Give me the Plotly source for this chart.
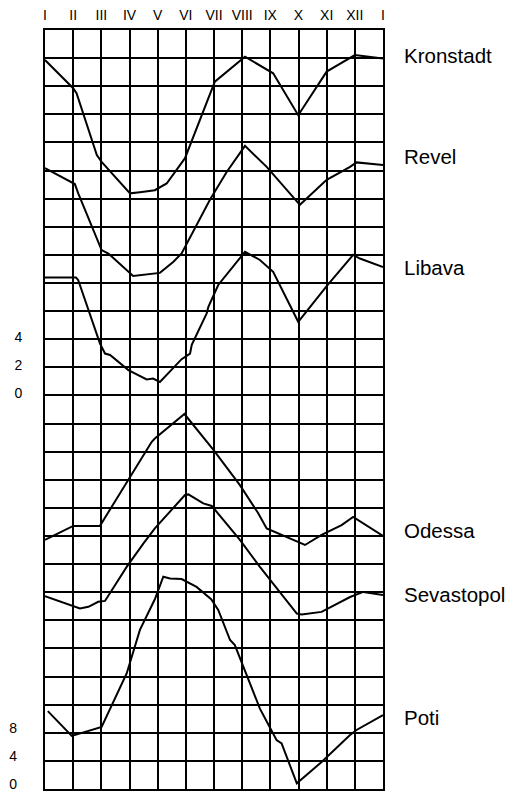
import plotly.graph_objects as go

# ---- data (x in months from January = 0, y in grid units counted from the bottom row) ----
month_labels = ["I", "II", "III", "IV", "V", "VI", "VII", "VIII", "IX", "X", "XI", "XII", "I"]

kronstadt_x = [0, 1.0, 1.12, 1.84, 2.01, 3.02, 3.37, 3.9, 4.32, 4.97, 6.03, 7.1, 8.1, 8.99, 10.0, 11.0, 12.0]
kronstadt_y = [25.93, 24.93, 24.75, 22.55, 22.31, 21.19, 21.23, 21.3, 21.54, 22.44, 25.16, 26.05, 25.46, 23.97, 25.52, 26.11, 25.99]

revel_x = [0, 1.06, 1.18, 2.01, 2.25, 3.13, 4.08, 4.55, 4.85, 5.86, 6.45, 7.1, 7.87, 9.05, 10.0, 10.83, 11.06, 12.0]
revel_y = [22.09, 21.52, 21.19, 19.17, 19.05, 18.25, 18.36, 18.75, 19.05, 20.97, 21.95, 22.88, 22.13, 20.78, 21.67, 22.13, 22.29, 22.2]

libava_x = [0, 1.1, 1.18, 1.95, 2.13, 2.31, 2.96, 3.61, 3.84, 4.08, 4.85, 5.15, 5.21, 5.74, 5.8, 6.15, 7.1, 7.63, 8.1, 8.99, 10.0, 10.94, 11.18, 12.0]
libava_y = [18.2, 18.2, 18.1, 15.85, 15.49, 15.44, 14.9, 14.57, 14.6, 14.48, 15.29, 15.49, 15.8, 16.92, 17.15, 17.93, 19.11, 18.82, 18.4, 16.62, 17.89, 19.0, 18.87, 18.57]

odessa_x = [0, 1.0, 1.95, 2.96, 3.26, 3.79, 3.9, 4.95, 5.98, 6.92, 7.57, 7.87, 9.23, 9.82, 10.53, 10.94, 12.0]
odessa_y = [8.86, 9.36, 9.36, 10.99, 11.47, 12.35, 12.47, 13.34, 12.06, 10.81, 9.81, 9.27, 8.68, 9.04, 9.39, 9.68, 9.0]

sevastopol_x = [0, 1.24, 1.54, 1.89, 2.13, 2.6, 2.9, 3.49, 3.9, 4.97, 5.09, 5.62, 5.92, 6.92, 7.63, 8.94, 9.11, 9.82, 10.83, 11.3, 12.0]
sevastopol_y = [6.86, 6.42, 6.48, 6.66, 6.69, 7.43, 7.9, 8.73, 9.27, 10.46, 10.48, 10.16, 10.07, 8.86, 7.9, 6.24, 6.21, 6.3, 6.83, 7.01, 6.9]

poti_x = [0.1, 0.95, 2.01, 2.9, 3.37, 3.9, 4.2, 4.44, 4.85, 5.38, 5.9, 6.15, 6.57, 6.74, 7.63, 8.22, 8.4, 8.94, 9.82, 10.83, 11.06, 12.0]
poti_y = [2.77, 1.89, 2.21, 4.11, 5.66, 6.75, 7.55, 7.49, 7.47, 7.19, 6.75, 6.37, 5.3, 5.12, 2.86, 1.74, 1.62, 0.2, 0.96, 1.92, 2.1, 2.63]

stations = ["Kronstadt", "Revel", "Libava", "Odessa", "Sevastopol", "Poti"]
series_x = [kronstadt_x, revel_x, libava_x, odessa_x, sevastopol_x, poti_x]
series_y = [kronstadt_y, revel_y, libava_y, odessa_y, sevastopol_y, poti_y]
series_axis = ["y", "y", "y", "y2", "y2", "y2"]   # Baltic scale / Black Sea scale

baltic_tickvals = [14, 15, 16]
baltic_ticktext = ["0", "2", "4"]
black_sea_tickvals = [0, 1, 2]
black_sea_ticktext = ["0", "4", "8"]

# label vertical nudges (pixels) relative to each curve's end point
label_yshift = [3, 8, -1, 6, 1, -2]

FONT = "Liberation Sans, Arial, Helvetica, sans-serif"
Y_RANGE = [0, 27]

fig = go.Figure()
for name, xs, ys, ax in zip(stations, series_x, series_y, series_axis):
    fig.add_trace(go.Scatter(x=xs, y=ys, mode="lines", name=name, yaxis=ax,
                             line=dict(color="black", width=2),
                             showlegend=False, hoverinfo="skip"))

for name, xs, ys, ax, dy in zip(stations, series_x, series_y, series_axis, label_yshift):
    fig.add_annotation(x=xs[-1], y=ys[-1], xref="x", yref=ax, text=name,
                       showarrow=False, xanchor="left", yanchor="middle",
                       xshift=19, yshift=dy,
                       font=dict(family=FONT, size=20.5, color="black"))

common_y = dict(range=Y_RANGE, tickmode="array", zeroline=False, ticks="",
                tickfont=dict(size=14, color="black"),
                ticklabeloverflow="allow", automargin=False, fixedrange=True)

fig.update_layout(
    width=522, height=792,
    margin=dict(l=45, r=139, t=30, b=3),
    paper_bgcolor="white", plot_bgcolor="white",
    font=dict(family=FONT, color="black"),
    xaxis=dict(range=[0, 12], side="top", tickmode="array",
               tickvals=list(range(13)), ticktext=month_labels,
               showgrid=True, gridcolor="black", gridwidth=2,
               showline=True, mirror=True, linecolor="black", linewidth=2,
               zeroline=False, ticks="", tickfont=dict(size=14, color="black"),
               ticklabelstandoff=2, automargin=False, fixedrange=True),
    yaxis=dict(**common_y, tickvals=baltic_tickvals, ticktext=baltic_ticktext,
               ticklabelshift=-2, ticklabelstandoff=18,
               showgrid=True, gridcolor="black", gridwidth=2,
               minor=dict(tick0=0, dtick=1, showgrid=True, gridcolor="black", gridwidth=2),
               showline=True, mirror=True, linecolor="black", linewidth=2),
    yaxis2=dict(**common_y, tickvals=black_sea_tickvals, ticktext=black_sea_ticktext,
                ticklabelshift=-5, ticklabelstandoff=27, overlaying="y", side="left",
                showgrid=False, showline=False),
)

fig.write_html("out.html", config={"displayModeBar": False},
               post_script="document.body.style.margin='0';document.body.style.overflow='hidden';")
